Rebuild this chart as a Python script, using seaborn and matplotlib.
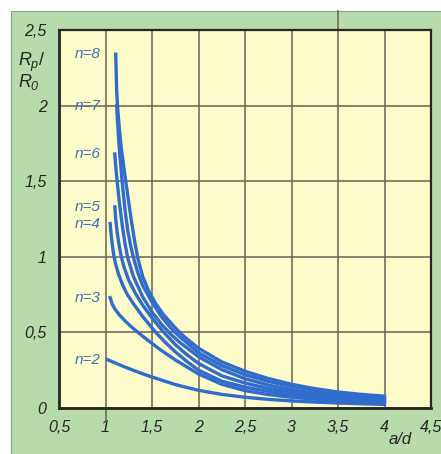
import matplotlib
matplotlib.use("Agg")
import matplotlib.pyplot as plt
import pandas as pd
import seaborn as sns
from matplotlib.patches import Rectangle

# Ratio R_p/R_0 against conductor spacing a/d, one curve per number of turns n
turns = [2, 3, 4, 5, 6, 7, 8]

ad_n2 = [1.02, 1.1, 1.2, 1.3, 1.4, 1.5, 1.75, 2.0, 2.25, 2.5, 2.75, 3.0, 3.25, 3.5, 3.75, 4.0]
rp_n2 = [0.32, 0.299, 0.273, 0.249, 0.226, 0.205, 0.155, 0.117, 0.090, 0.071, 0.057, 0.047, 0.039, 0.033, 0.028, 0.024]

ad_n3 = [1.05, 1.07, 1.10, 1.15, 1.22, 1.30, 1.40, 1.50, 1.60, 1.75, 2.0, 2.25, 2.5, 2.75, 3.0, 3.25, 3.5, 3.75, 4.0]
rp_n3 = [0.73, 0.69, 0.655, 0.615, 0.57, 0.525, 0.475, 0.427, 0.381, 0.318, 0.225, 0.157, 0.115, 0.089, 0.071, 0.058, 0.048, 0.040, 0.034]

ad_n4 = [1.05, 1.06, 1.075, 1.09, 1.11, 1.14, 1.18, 1.23, 1.30, 1.40, 1.54, 1.65, 1.75, 1.87, 2.0, 2.25, 2.5, 2.75, 3.0, 3.25, 3.5, 3.75, 4.0]
rp_n4 = [1.22, 1.15, 1.07, 1.005, 0.95, 0.885, 0.82, 0.755, 0.69, 0.605, 0.50, 0.43, 0.372, 0.31, 0.25, 0.177, 0.138, 0.110, 0.088, 0.072, 0.060, 0.051, 0.045]

ad_n5 = [1.10, 1.11, 1.125, 1.145, 1.17, 1.20, 1.25, 1.32, 1.40, 1.50, 1.62, 1.75, 1.87, 2.0, 2.25, 2.5, 2.75, 3.0, 3.25, 3.5, 3.75, 4.0]
rp_n5 = [1.33, 1.25, 1.165, 1.08, 1.00, 0.93, 0.845, 0.76, 0.68, 0.595, 0.505, 0.42, 0.355, 0.295, 0.213, 0.165, 0.130, 0.104, 0.085, 0.071, 0.060, 0.052]

ad_n6 = [1.10, 1.11, 1.12, 1.135, 1.155, 1.18, 1.21, 1.24, 1.30, 1.40, 1.50, 1.60, 1.70, 1.80, 2.0, 2.25, 2.5, 2.75, 3.0, 3.25, 3.5, 3.75, 4.0]
rp_n6 = [1.68, 1.60, 1.53, 1.44, 1.33, 1.21, 1.085, 0.99, 0.87, 0.735, 0.635, 0.555, 0.489, 0.433, 0.339, 0.254, 0.194, 0.152, 0.121, 0.098, 0.081, 0.0685, 0.0585]

ad_n7 = [1.12, 1.13, 1.14, 1.155, 1.18, 1.21, 1.24, 1.27, 1.30, 1.35, 1.40, 1.50, 1.60, 1.70, 1.80, 2.0, 2.25, 2.5, 2.75, 3.0, 3.25, 3.5, 3.75, 4.0]
rp_n7 = [2.00, 1.89, 1.79, 1.665, 1.49, 1.31, 1.17, 1.075, 0.995, 0.89, 0.81, 0.70, 0.605, 0.53, 0.47, 0.365, 0.28, 0.22, 0.176, 0.142, 0.116, 0.096, 0.082, 0.070]

ad_n8 = [1.11, 1.12, 1.13, 1.15, 1.17, 1.195, 1.22, 1.25, 1.28, 1.32, 1.35, 1.40, 1.46, 1.54, 1.62, 1.75, 1.84, 2.0, 2.25, 2.5, 2.75, 3.0, 3.25, 3.5, 3.75, 4.0]
rp_n8 = [2.34, 2.10, 1.99, 1.84, 1.72, 1.60, 1.49, 1.36, 1.23, 1.08, 0.985, 0.87, 0.78, 0.69, 0.62, 0.53, 0.475, 0.395, 0.305, 0.243, 0.195, 0.157, 0.128, 0.106, 0.090, 0.078]

x_ticks = [0.5, 1.0, 1.5, 2.0, 2.5, 3.0, 3.5, 4.0, 4.5]
x_tick_labels = ["0,5", "1", "1,5", "2", "2,5", "3", "3,5", "4", "4,5"]
y_ticks = [0.0, 0.5, 1.0, 1.5, 2.0, 2.5]
y_tick_labels = ["0", "0,5", "1", "1,5", "2", "2,5"]

curves = {2: (ad_n2, rp_n2), 3: (ad_n3, rp_n3), 4: (ad_n4, rp_n4),
          5: (ad_n5, rp_n5), 6: (ad_n6, rp_n6), 7: (ad_n7, rp_n7),
          8: (ad_n8, rp_n8)}

rows = []
for n, (xs, ys) in curves.items():
    for i, (x, y) in enumerate(zip(xs, ys)):
        rows.append({"n": n, "order": i, "a_d": x, "ratio": y})
df = pd.DataFrame(rows)

LINE = "#2f6ccc"
LABEL = "#3d72b0"
FRAME = "#b7dbaa"
PAPER = "#fdfbca"
GRID = "#6a6252"
INK = "#262626"

plt.rcParams["font.family"] = ["Liberation Sans", "DejaVu Sans"]
plt.rcParams["mathtext.fontset"] = "custom"
plt.rcParams["mathtext.it"] = "Liberation Sans:italic"
plt.rcParams["mathtext.rm"] = "Liberation Sans:italic"

fig = plt.figure(figsize=(4.41, 4.54), dpi=100)
fig.patch.set_facecolor("white")

# green page frame behind the chart
bg = fig.add_axes([0, 0, 1, 1], zorder=-10)
bg.set_xlim(0, 441)
bg.set_ylim(454, 0)
bg.axis("off")
bg.add_patch(Rectangle((11, 11), 440, 450, facecolor=FRAME,
                       edgecolor="#8f9f8a", linewidth=0.8))

ax = fig.add_axes([59 / 441, 46 / 454, (431 - 59) / 441, (408 - 30) / 454])
ax.set_facecolor(PAPER)

sns.lineplot(data=df, x="a_d", y="ratio", hue="n", units="n", estimator=None,
             sort=False, palette={n: LINE for n in turns}, legend=False,
             linewidth=2.4, ax=ax, zorder=3)

ax.set_xlim(0.5, 4.5)
ax.set_ylim(0, 2.5)
ax.set_xticks(x_ticks)
ax.set_xticklabels(x_tick_labels)
ax.set_yticks(y_ticks)
ax.set_yticklabels(y_tick_labels)
ax.grid(True, color=GRID, linewidth=1.1, zorder=1)
ax.set_axisbelow(True)
ax.tick_params(length=0, pad=9, labelsize=11.5, colors=INK)
for lab in ax.get_xticklabels() + ax.get_yticklabels():
    lab.set_fontstyle("italic")
ax.set_xlabel("")
ax.set_ylabel("")
for side in ["left", "bottom"]:
    ax.spines[side].set_color(INK)
    ax.spines[side].set_linewidth(2.0)
for side in ["top", "right"]:
    ax.spines[side].set_color(INK)
    ax.spines[side].set_linewidth(1.6)

# short grid stubs running past the plot edge
xt = ax.get_xaxis_transform()
ax.plot([1.0, 1.0], [-0.035, 0.0], transform=xt, color=GRID, lw=1.1,
        clip_on=False, zorder=1)
ax.plot([3.5, 3.5], [1.0, 1.05], transform=xt, color=GRID, lw=1.1,
        clip_on=False, zorder=1)

# curve names at the start of each curve
for n, (xs, ys) in curves.items():
    ax.text(0.945, ys[0], f"n={n}", ha="right", va="center", fontsize=11,
            fontstyle="italic", color=LABEL, zorder=4)

# axis captions
fig.text(18 / 441, 1 - 62 / 454, r"$R_p$/", ha="left", va="center",
         fontsize=13, color=INK)
fig.text(18 / 441, 1 - 82 / 454, r"$R_0$", ha="left", va="center",
         fontsize=13, color=INK)
fig.text(400 / 441, 1 - 439 / 454, "a/d", ha="center", va="center",
         fontsize=12, fontstyle="italic", color=INK)

fig.savefig("out.png", dpi=100, facecolor=fig.get_facecolor())
